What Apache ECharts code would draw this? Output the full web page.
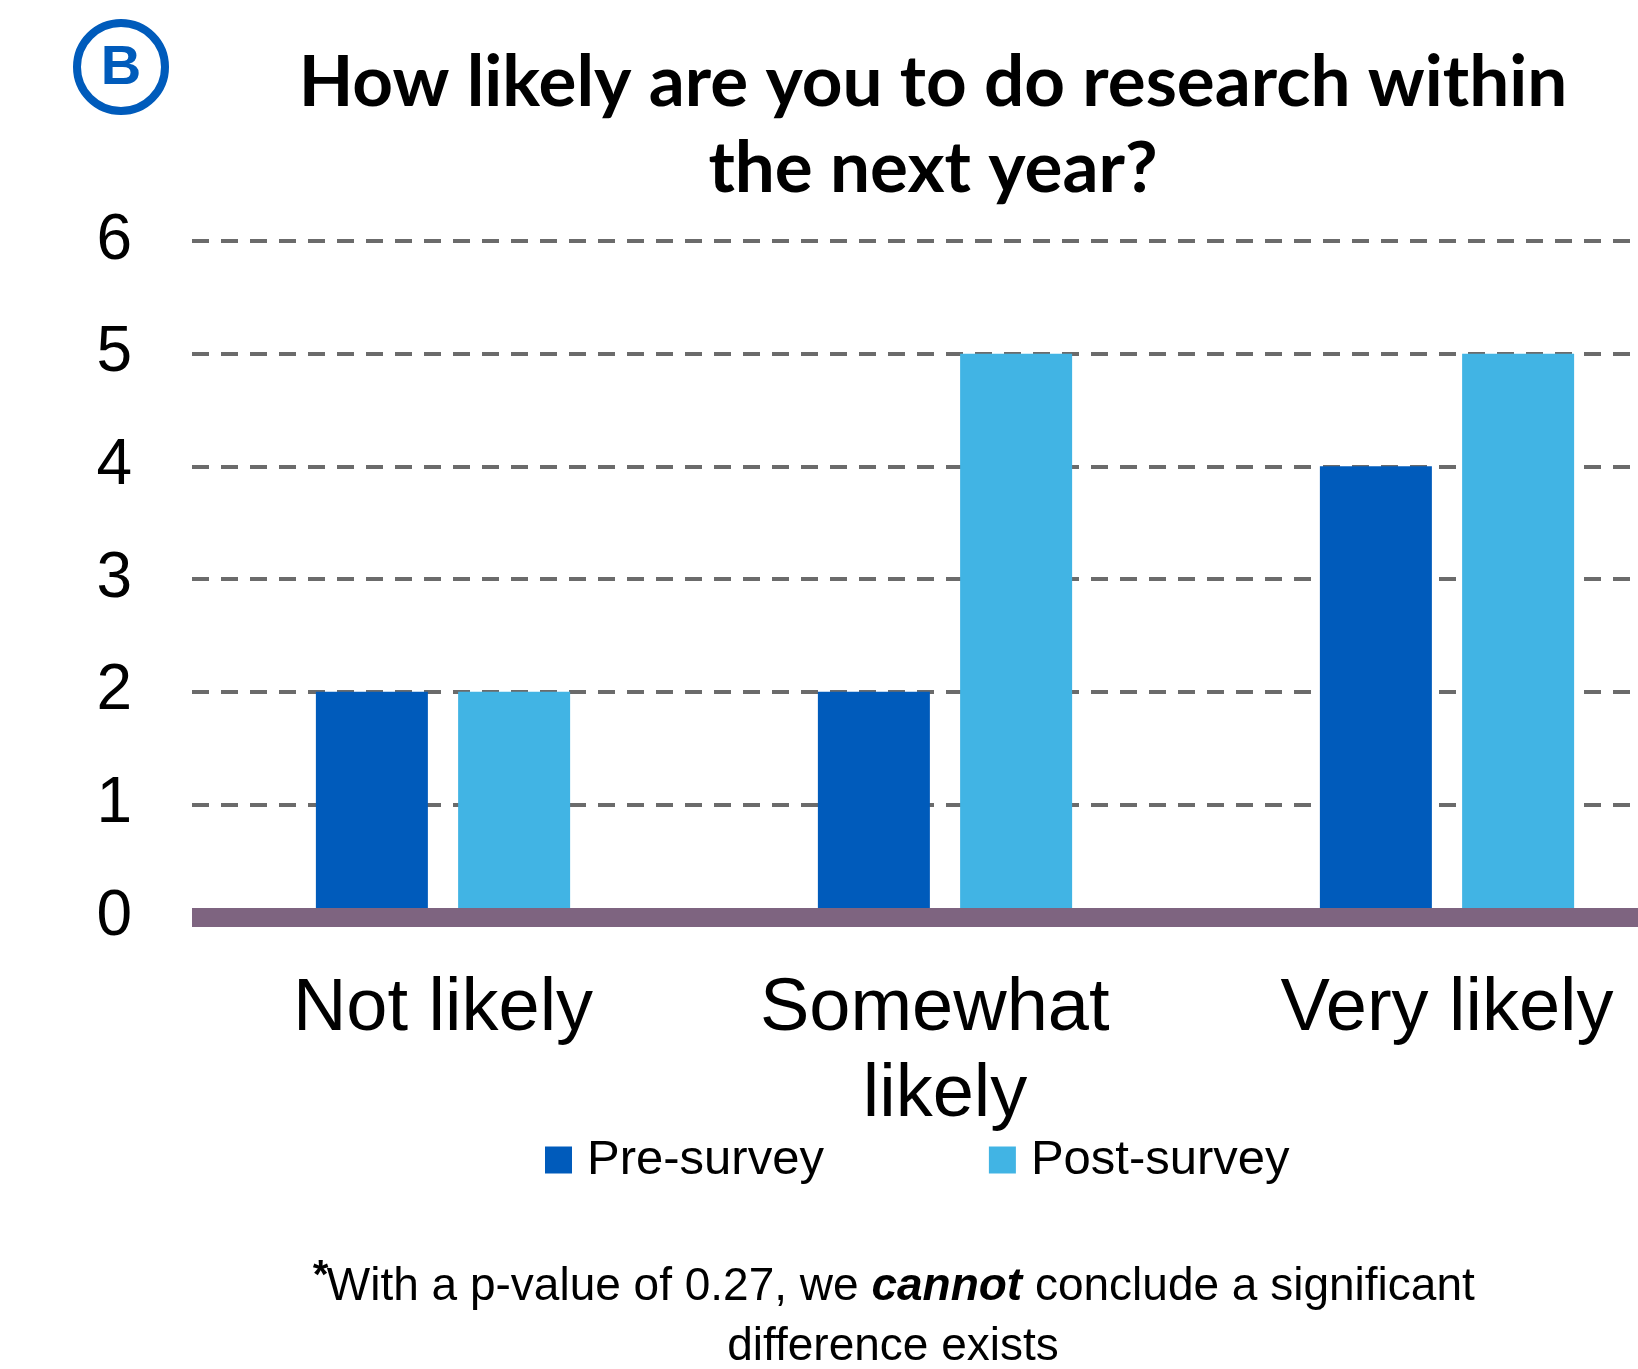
<!DOCTYPE html>
<html>
<head>
<meta charset="utf-8">
<script src="https://cdn.jsdelivr.net/npm/echarts@6/dist/echarts.min.js"></script>
<style>
html,body{margin:0;padding:0;background:#fff;}
#chart{width:1638px;height:1369px;}
</style>
</head>
<body>
<div id="chart"></div>
<script>
const categories = ['Not likely', 'Somewhat likely', 'Very likely'];
const preSurvey = [2, 2, 4];
const postSurvey = [2, 5, 5];
const seriesNames = ['Pre-survey', 'Post-survey'];
const titleLines = ['How likely are you to do research within', 'the next year?'];
const footLine1 = 'With a p-value of 0.27, we ';
const footBold = 'cannot';
const footLine1b = ' conclude a significant';
const footLine2 = 'difference exists';
const yTicks = { min: 0, max: 6, interval: 1 };

const chart = echarts.init(document.getElementById('chart'), null, { renderer: 'canvas' });
const FONT = '"Liberation Sans", Arial, sans-serif';

chart.setOption({
  animation: false,
  backgroundColor: '#ffffff',
  color: ['#005BBB', '#41B4E4'],
  grid: { left: 192, top: 241, width: 1506, height: 676, containLabel: false, outerBoundsMode: 'none' },
  xAxis: {
    type: 'category',
    data: categories,
    z: 5,
    axisLine: { show: true, lineStyle: { color: '#7E6480', width: 19, cap: 'butt' } },
    axisTick: { show: false },
    axisLabel: {
      interval: 0,
      color: '#000', fontFamily: FONT, fontSize: 74, lineHeight: 86,
      margin: 50, width: 420, overflow: 'break', align: 'center'
    },
    splitLine: { show: false }
  },
  yAxis: {
    type: 'value',
    min: yTicks.min, max: yTicks.max, interval: yTicks.interval,
    axisLine: { show: false },
    axisTick: { show: false },
    axisLabel: { color: '#000', fontFamily: FONT, fontSize: 64, margin: 60 },
    splitLine: { show: true, lineStyle: { color: '#6b6b6b', width: 4, type: [17, 12] } }
  },
  legend: {
    data: seriesNames,
    left: 545, top: 1132, padding: 0,
    icon: 'rect', itemWidth: 27, itemHeight: 27, itemGap: 165,
    textStyle: { color: '#000', fontFamily: FONT, fontSize: 49, lineHeight: 56, padding: [0, 0, 0, 10] }
  },
  series: [
    { name: seriesNames[0], type: 'bar', data: preSurvey, barWidth: 112, barGap: '27%' },
    { name: seriesNames[1], type: 'bar', data: postSurvey, barWidth: 112, barGap: '27%' }
  ],
  graphic: [
    { type: 'circle', shape: { cx: 121, cy: 67, r: 44 }, style: { fill: 'none', stroke: '#005BBB', lineWidth: 8 } },
    { type: 'text', style: { text: 'B', x: 121, y: 69, textAlign: 'center', textVerticalAlign: 'middle',
        font: 'bold 56px ' + FONT, fill: '#005BBB' } },
    { type: 'text', style: { text: titleLines.join('\n'), x: 933, y: 40, textAlign: 'center', textVerticalAlign: 'top',
        font: 'bold 71px Lato, ' + FONT, lineHeight: 86, fill: '#000' } },
    { type: 'text', style: {
        text: '{ast|*}' + footLine1 + '{b|' + footBold + '}' + footLine1b + '\n' + footLine2,
        x: 893, y: 1317, textAlign: 'center', textVerticalAlign: 'middle',
        fontFamily: FONT, fontSize: 46, lineHeight: 60, fill: '#000',
        rich: {
          ast: { fontFamily: FONT, fontSize: 40, fontWeight: 'bold', fontStyle: 'italic', verticalAlign: 'top', lineHeight: 60, fill: '#000' },
          b: { fontFamily: FONT, fontSize: 46, fontWeight: 'bold', fontStyle: 'italic', lineHeight: 60, fill: '#000' }
        }
      } }
  ]
});
</script>
</body>
</html>
